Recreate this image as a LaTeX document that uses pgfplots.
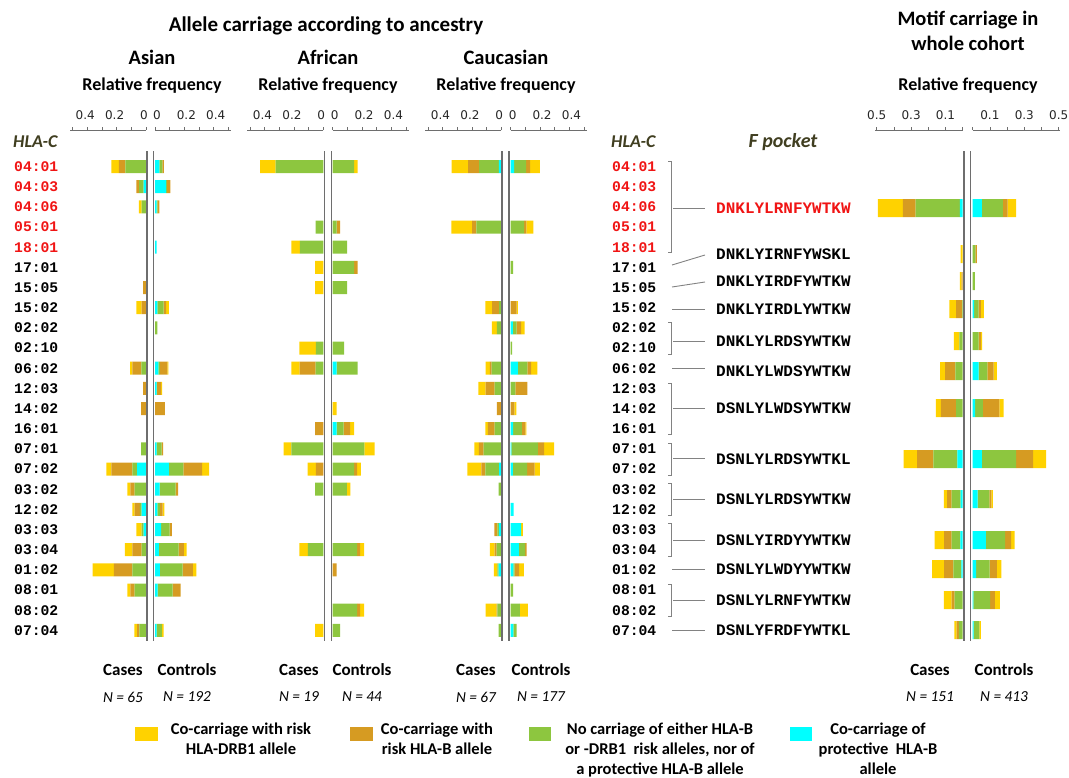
\documentclass[border=0pt]{standalone}
\usepackage{fontspec}
\setmainfont{Carlito}
\newfontfamily\mono{Liberation Mono}
\newfontfamily\dejavu{DejaVu Sans}
\usepackage{pgfplots}
\pgfplotsset{compat=1.18}
\usepackage{pgfplotstable}

\definecolor{cY}{RGB}{255,210,0}
\definecolor{cB}{RGB}{214,155,34}
\definecolor{cG}{RGB}{141,198,63}
\definecolor{cC}{RGB}{0,255,255}
\definecolor{olive}{RGB}{64,62,32}
\definecolor{rowred}{RGB}{240,20,20}
\definecolor{lgray}{RGB}{110,110,110}
\definecolor{bgray}{RGB}{130,130,130}

% columns: r = row (0 = 04:01 ... 23 = 07:04); cy = protective HLA-B, gr = none, br = risk HLA-B, ye = risk HLA-DRB1
\pgfplotstableread{
r cy gr br ye
0 0 0.14 0.045 0.05
1 0.016 0.03 0.02 0
2 0 0.03 0 0.018
6 0 0 0.02 0
7 0 0 0.03 0.036
10 0 0.032 0.06 0.016
11 0 0 0.02 0
12 0 0 0.034 0
14 0 0.034 0 0
15 0.061 0.032 0.143 0.034
16 0 0.077 0.03 0.02
17 0.03 0.011 0.036 0.016
18 0.016 0.014 0 0.036
19 0 0.03 0.063 0.05
20 0 0.093 0.125 0.145
21 0 0.077 0.03 0.02
23 0 0.045 0.016 0.018
}\asiaCa
\pgfplotstableread{
r cy gr br ye
0 0.03 0.02 0.01 0
1 0.075 0.005 0.025 0
2 0.011 0.007 0.011 0
4 0.011 0 0 0
7 0.016 0.043 0.016 0.02
8 0 0.016 0 0
10 0.023 0.011 0.05 0.007
11 0.011 0.004 0.027 0.007
12 0 0 0.068 0
14 0.011 0.034 0.011 0
15 0.095 0.098 0.127 0.048
16 0.032 0.109 0.016 0
17 0.016 0.018 0.018 0.011
18 0.041 0.059 0.014 0
19 0.027 0.134 0.036 0.018
20 0.034 0.154 0.07 0.023
21 0.018 0.102 0.054 0
23 0.011 0.036 0 0.011
}\asiaCo
\pgfplotstableread{
r cy gr br ye
0 0 0.325 0 0.105
3 0 0.053 0 0
4 0 0.16 0 0.057
5 0 0 0 0.055
6 0 0 0 0.055
9 0 0.05 0 0.112
10 0 0.053 0.108 0.057
13 0 0 0.055 0
14 0 0.217 0 0.053
15 0 0 0.05 0.057
16 0 0.055 0 0
19 0 0.105 0 0.057
23 0 0 0 0.055
}\afrCa
\pgfplotstableread{
r cy gr br ye
0 0 0.146 0 0.023
3 0 0.027 0.023 0
4 0 0.098 0 0
5 0 0.146 0.023 0
6 0 0.098 0 0
9 0 0.078 0 0
10 0.027 0.142 0 0
12 0 0 0 0.027
13 0.027 0.048 0.043 0.027
14 0 0.215 0 0.071
15 0 0.146 0.02 0.025
16 0 0.096 0 0.025
19 0 0.167 0.02 0.027
20 0 0 0.027 0
22 0 0.167 0.02 0.027
23 0 0.05 0 0
}\afrCo
\pgfplotstableread{
r cy gr br ye
0 0.016 0.135 0.075 0.112
3 0 0.169 0.03 0.14
7 0 0.014 0.048 0.046
8 0 0.03 0 0.034
10 0 0.066 0.011 0.03
11 0 0.046 0.06 0.05
12 0 0 0.03 0
13 0 0.046 0.046 0.016
14 0 0.12 0.032 0.032
15 0.014 0.094 0.027 0.096
16 0 0.018 0 0
18 0.016 0.011 0.02 0
19 0 0.032 0.014 0.032
20 0.018 0.009 0 0.023
22 0 0.027 0.005 0.075
23 0 0.018 0 0
}\cauCa
\pgfplotstableread{
r cy gr br ye
0 0.023 0.082 0.027 0.066
3 0 0.092 0.014 0.048
5 0 0.016 0 0
7 0 0 0.041 0.007
8 0.014 0.027 0.03 0.023
9 0 0.009 0 0
10 0.048 0.066 0.025 0.043
11 0 0.032 0.082 0
12 0 0 0.025 0.014
13 0.016 0.06 0.023 0.007
14 0.005 0.18 0.043 0.068
15 0.014 0.098 0.05 0.037
17 0.02 0 0 0
18 0.071 0 0 0.011
19 0.055 0.043 0.011 0
20 0.018 0.009 0.03 0.032
21 0 0.016 0 0
22 0 0.062 0 0.055
23 0.018 0.023 0 0
}\cauCo
% motif panel: r = vertical position of the motif row (pt from top)
\pgfplotstableread{
r cy gr br ye
208 0.016 0.258 0.074 0.145
254 0 0 0 0.012
281 0 0 0.006 0.01
309 0 0.004 0.035 0.039
341 0 0.02 0 0.031
371 0 0.043 0.059 0.029
408 0 0.039 0.088 0.029
459 0.031 0.14 0.094 0.078
499 0.012 0.053 0.025 0.02
540 0.014 0.051 0.043 0.055
569 0.008 0.047 0.053 0.07
600 0 0.047 0.018 0.045
630 0 0.023 0.012 0.014
}\motCa
\pgfplotstableread{
r cy gr br ye
208 0.053 0.123 0.027 0.05
254 0 0.016 0.008 0
281 0 0.012 0 0
309 0.008 0.027 0.012 0.018
341 0 0.035 0.012 0.008
371 0.035 0.051 0.035 0.02
408 0.014 0.045 0.096 0.025
459 0.053 0.2 0.098 0.076
499 0.029 0.068 0.012 0.008
540 0.076 0.113 0.035 0.02
569 0.02 0.078 0.043 0.025
600 0.004 0.098 0.027 0.029
630 0.006 0.033 0 0.008
}\motCo

\pgfplotsset{
  panel/.style={
    scale only axis, xbar stacked, height=511pt, ymin=-641, ymax=-130,
    xmin=0, axis x line*=top, axis y line=none,
    x axis line style={-, draw=lgray, line width=0.8pt},
    every outer x axis line/.append style={-},
    tick align=outside, major tick length=3pt, minor tick length=3pt,
    tick style={draw=lgray, line width=0.6pt},
    xticklabel style={font=\dejavu\fontsize{12}{14}\selectfont, text=black!85},
    /pgf/number format/assume math mode=true,
    xticklabel shift=4pt,
  },
  anc/.style={panel, xmax=0.52, width=76.4pt, bar width=13pt,
    xtick={0,0.2,0.4}, minor xtick={0.1,0.3,0.5}},
  mot/.style={panel, xmax=0.51, width=87.7pt, bar width=18pt,
    xtick={0.1,0.3,0.5}, minor xtick={0,0.2,0.4}},
  casesside/.style={x dir=reverse, xticklabel style={xshift=-2pt}},
  ctrlside/.style={xticklabel style={xshift=2pt}},
}
\newcommand\ancbars[1]{%
  \addplot[fill=cC,draw=none] table[x=cy,y expr={-(166.5+20.17*\thisrow{r})}]{#1};
  \addplot[fill=cG,draw=none] table[x=gr,y expr={-(166.5+20.17*\thisrow{r})}]{#1};
  \addplot[fill=cB,draw=none] table[x=br,y expr={-(166.5+20.17*\thisrow{r})}]{#1};
  \addplot[fill=cY,draw=none] table[x=ye,y expr={-(166.5+20.17*\thisrow{r})}]{#1};
}
\newcommand\motbars[1]{%
  \addplot[fill=cC,draw=none] table[x=cy,y expr={-\thisrow{r}}]{#1};
  \addplot[fill=cG,draw=none] table[x=gr,y expr={-\thisrow{r}}]{#1};
  \addplot[fill=cB,draw=none] table[x=br,y expr={-\thisrow{r}}]{#1};
  \addplot[fill=cY,draw=none] table[x=ye,y expr={-\thisrow{r}}]{#1};
}

\begin{document}
\begin{tikzpicture}
\useasboundingbox (0pt,0pt) rectangle (1069pt,-777pt);

% ---- bar panels ----
\begin{axis}[anc, casesside, at={(146pt,-130pt)}, anchor=north east]
\ancbars{\asiaCa}
\end{axis}
\begin{axis}[anc, ctrlside, at={(155pt,-130pt)}, anchor=north west]
\ancbars{\asiaCo}
\end{axis}
\begin{axis}[anc, casesside, at={(323.3pt,-130pt)}, anchor=north east]
\ancbars{\afrCa}
\end{axis}
\begin{axis}[anc, ctrlside, at={(332.7pt,-130pt)}, anchor=north west]
\ancbars{\afrCo}
\end{axis}
\begin{axis}[anc, casesside, at={(501.3pt,-130pt)}, anchor=north east]
\ancbars{\cauCa}
\end{axis}
\begin{axis}[anc, ctrlside, at={(510.7pt,-130pt)}, anchor=north west]
\ancbars{\cauCo}
\end{axis}
\begin{axis}[mot, x dir=reverse, at={(962.7pt,-130pt)}, anchor=north east]
\motbars{\motCa}
\end{axis}
\begin{axis}[mot, at={(972.7pt,-130pt)}, anchor=north west]
\motbars{\motCo}
\end{axis}

% ---- double centre lines ----
\foreach \xx in {147,153.7,324.5,331.5,502,509,964,970.5}
  \draw[lgray, line width=1.3pt] ({\xx*1pt},-151pt) -- ({\xx*1pt},-641pt);

% ---- titles ----
\node[font=\bfseries\fontsize{21}{25}\selectfont] at (326pt,-26pt) {Allele carriage according to ancestry};
\node[font=\bfseries\fontsize{20.5}{24}\selectfont] at (152pt,-57pt) {Asian};
\node[font=\bfseries\fontsize{20.5}{24}\selectfont] at (328pt,-57pt) {African};
\node[font=\bfseries\fontsize{20.5}{24}\selectfont] at (506pt,-57pt) {Caucasian};
\foreach \xx in {152,328,506,968}
  \node[font=\bfseries\fontsize{18}{22}\selectfont] at ({\xx*1pt},-86pt) {Relative frequency};
\node[font=\bfseries\fontsize{20.5}{25}\selectfont, align=center] at (968pt,-31pt) {Motif carriage in\\whole cohort};

\node[anchor=west, inner sep=0pt, font=\bfseries\itshape\fontsize{18}{20}\selectfont, text=olive] at (13pt,-142pt) {HLA-C};
\node[anchor=west, inner sep=0pt, font=\bfseries\itshape\fontsize{18}{20}\selectfont, text=olive] at (611pt,-142pt) {HLA-C};
\node[font=\bfseries\itshape\fontsize{20}{22}\selectfont, text=olive] at (783pt,-142pt) {F pocket};

% ---- row labels ----
\foreach \l/\cl [count=\i from 0] in {04:01/rowred,04:03/rowred,04:06/rowred,05:01/rowred,18:01/rowred,17:01/black,15:05/black,15:02/black,02:02/black,02:10/black,06:02/black,12:03/black,14:02/black,16:01/black,07:01/black,07:02/black,03:02/black,12:02/black,03:03/black,03:04/black,01:02/black,08:01/black,08:02/black,07:04/black}{
  \node[anchor=west, inner sep=0pt, font=\mono\bfseries\fontsize{14.7}{16}\selectfont, text=\cl] at (14pt,{-(166.5+20.17*\i)*1pt}) {\l};
  \node[anchor=west, inner sep=0pt, font=\mono\bfseries\fontsize{14.7}{16}\selectfont, text=\cl] at (612pt,{-(166.5+20.17*\i)*1pt}) {\l};
}

% ---- motif sequences ----
\foreach \yy/\s/\cl in {208/DNKLYLRNFYWTKW/rowred,254/DNKLYIRNFYWSKL/black,281/DNKLYIRDFYWTKW/black,309/DNKLYIRDLYWTKW/black,341/DNKLYLRDSYWTKW/black,371/DNKLYLWDSYWTKW/black,408/DSNLYLWDSYWTKW/black,459/DSNLYLRDSYWTKL/black,499/DSNLYLRDSYWTKW/black,540/DSNLYIRDYYWTKW/black,569/DSNLYLWDYYWTKW/black,600/DSNLYLRNFYWTKW/black,630/DSNLYFRDFYWTKL/black}
  \node[anchor=west, inner sep=0pt, font=\mono\bfseries\fontsize{16}{18}\selectfont, text=\cl] at (716pt,{-\yy*1pt}) {\s};

% ---- brackets and connectors ----
\begin{scope}[bgray, line width=0.9pt]
\foreach \t/\b/\m in {161/252/208,322/354/341,383/434/408,443/475/458,483/515/499,523/556/540,584/616/600}{
  \draw ({668pt},{-\t*1pt}) -- (671pt,{-\t*1pt}) -- (671pt,{-\b*1pt}) -- (668pt,{-\b*1pt});
  \draw (673pt,{-\m*1pt}) -- (705pt,{-\m*1pt});
}
\draw (672pt,-265pt) -- (705pt,-255pt);
\draw (672pt,-287pt) -- (705pt,-282pt);
\foreach \m in {309,368,569,630}
  \draw (672pt,{-\m*1pt}) -- (705pt,{-\m*1pt});
\end{scope}

% ---- group labels ----
\foreach \xa/\xb/\na/\nb in {123/187/65/192,299/362/19/44,476/541/67/177,930/1004/151/413}{
  \node[font=\bfseries\fontsize{17}{20}\selectfont] at ({\xa*1pt},-670pt) {Cases};
  \node[font=\bfseries\fontsize{17}{20}\selectfont] at ({\xb*1pt},-670pt) {Controls};
  \node[font=\itshape\fontsize{15.3}{18}\selectfont] at ({\xa*1pt},-697pt) {N = \na};
  \node[font=\itshape\fontsize{15.3}{18}\selectfont] at ({\xb*1pt},-697pt) {N = \nb};
}

% ---- legend ----
\fill[cY] (135pt,-727pt) rectangle (158pt,-741pt);
\fill[cB] (350pt,-727pt) rectangle (373pt,-741pt);
\fill[cG] (529pt,-727pt) rectangle (551pt,-741pt);
\fill[cC] (790pt,-727pt) rectangle (812pt,-741pt);
\tikzset{legtxt/.style={align=center, anchor=north, inner sep=0pt, font=\bfseries\fontsize{16.5}{20}\selectfont}}
\node[legtxt] at (241pt,-723pt) {Co-carriage with risk\\HLA-DRB1 allele};
\node[legtxt] at (437pt,-723pt) {Co-carriage with\\risk HLA-B allele};
\node[legtxt] at (660pt,-723pt) {No carriage of either HLA-B\\or -DRB1~~risk alleles, nor of\\a protective HLA-B allele};
\node[legtxt] at (878pt,-723pt) {Co-carriage of\\protective~~HLA-B\\allele};
\end{tikzpicture}
\end{document}
